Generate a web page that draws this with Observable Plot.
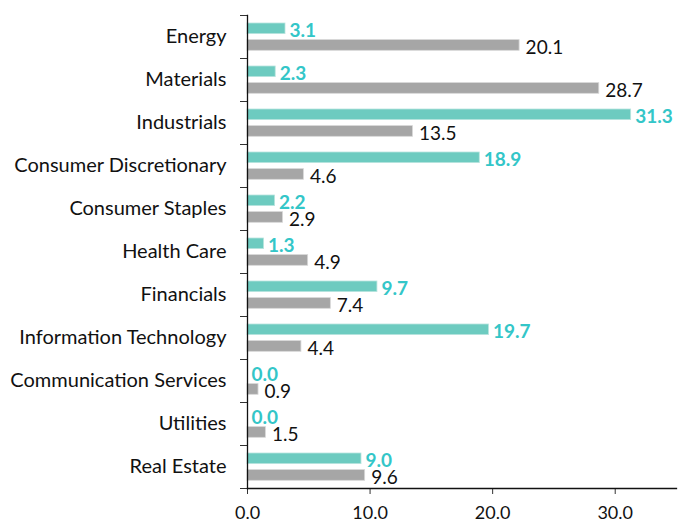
<!DOCTYPE html>
<html>
<head>
<meta charset="utf-8">
<script src="https://cdn.jsdelivr.net/npm/d3@7"></script>
<script src="https://cdn.jsdelivr.net/npm/@observablehq/plot@0.6"></script>
<style>
  html, body { margin: 0; padding: 0; background: #fff; }
  #chart svg { display: block; }
</style>
</head>
<body>
<div id="chart"></div>
<script>
const categories = ["Energy", "Materials", "Industrials", "Consumer Discretionary", "Consumer Staples",
  "Health Care", "Financials", "Information Technology", "Communication Services", "Utilities", "Real Estate"];
// bar lengths as drawn in the reference
const tealValues = [3.1, 2.3, 31.3, 18.95, 2.25, 1.35, 10.6, 19.7, 0.0, 0.0, 9.3];
const grayValues = [22.2, 28.7, 13.5, 4.6, 2.9, 4.95, 6.8, 4.4, 0.9, 1.5, 9.6];
// value labels as printed in the reference
const tealLabels = ["3.1", "2.3", "31.3", "18.9", "2.2", "1.3", "9.7", "19.7", "0.0", "0.0", "9.0"];
const grayLabels = ["20.1", "28.7", "13.5", "4.6", "2.9", "4.9", "7.4", "4.4", "0.9", "1.5", "9.6"];
const xTicks = [0, 10, 20, 30];

const teal = categories.map((c, i) => ({category: c, value: tealValues[i], label: tealLabels[i]}));
const gray = categories.map((c, i) => ({category: c, value: grayValues[i], label: grayLabels[i]}));

const W = 678, H = 523, mt = 15, mb = 35;
const bw = (H - mt - mb) / categories.length;

const chart = Plot.plot({
  width: W,
  height: H,
  marginTop: mt,
  marginBottom: mb,
  marginLeft: 247,
  marginRight: 2,
  style: {fontFamily: "Lato, sans-serif", color: "#111", background: "#fff"},
  x: {domain: [0, 35], ticks: xTicks, tickFormat: d3.format(".1f")},
  y: {domain: categories, padding: 0},
  marks: [
    Plot.barX(teal, {x: "value", y: "category", fill: "#6dcbc0", stroke: "#b8e4de", strokeWidth: 0.8,
      insetTop: 8, insetBottom: bw - 18.6}),
    Plot.barX(gray, {x: "value", y: "category", fill: "#a6a6a6", stroke: "#d8d8d8", strokeWidth: 0.8,
      insetTop: 24.6, insetBottom: bw - 35.3}),
    Plot.text(teal, {x: "value", y: "category", text: "label", textAnchor: "start", dx: 4,
      dy: -bw / 2 + 13.3 + 2, fill: "#33c6c8", fontWeight: "bold", fontSize: 19}),
    Plot.text(gray, {x: "value", y: "category", text: "label", textAnchor: "start", dx: 6,
      dy: -bw / 2 + 30 + 2, fill: "#111", fontSize: 19}),
    Plot.axisY({tickSize: 0, tickPadding: 21, fontSize: 20, label: null}),
    Plot.axisY({tickSize: 7, tickFormat: () => "", dy: -bw / 2, label: null, stroke: "#333"}),
    Plot.axisY({tickSize: 7, tickFormat: () => "", dy: bw / 2, label: null, stroke: "#333"}),
    Plot.axisX({ticks: xTicks, tickFormat: d3.format(".1f"), tickSize: 6, tickPadding: 12, fontSize: 18, label: null, stroke: "#333"}),
    Plot.frame({anchor: "left", stroke: "#111", strokeWidth: 1.3}),
    Plot.frame({anchor: "bottom", stroke: "#111", strokeWidth: 1.3})
  ]
});
document.getElementById("chart").appendChild(chart);
</script>
</body>
</html>
